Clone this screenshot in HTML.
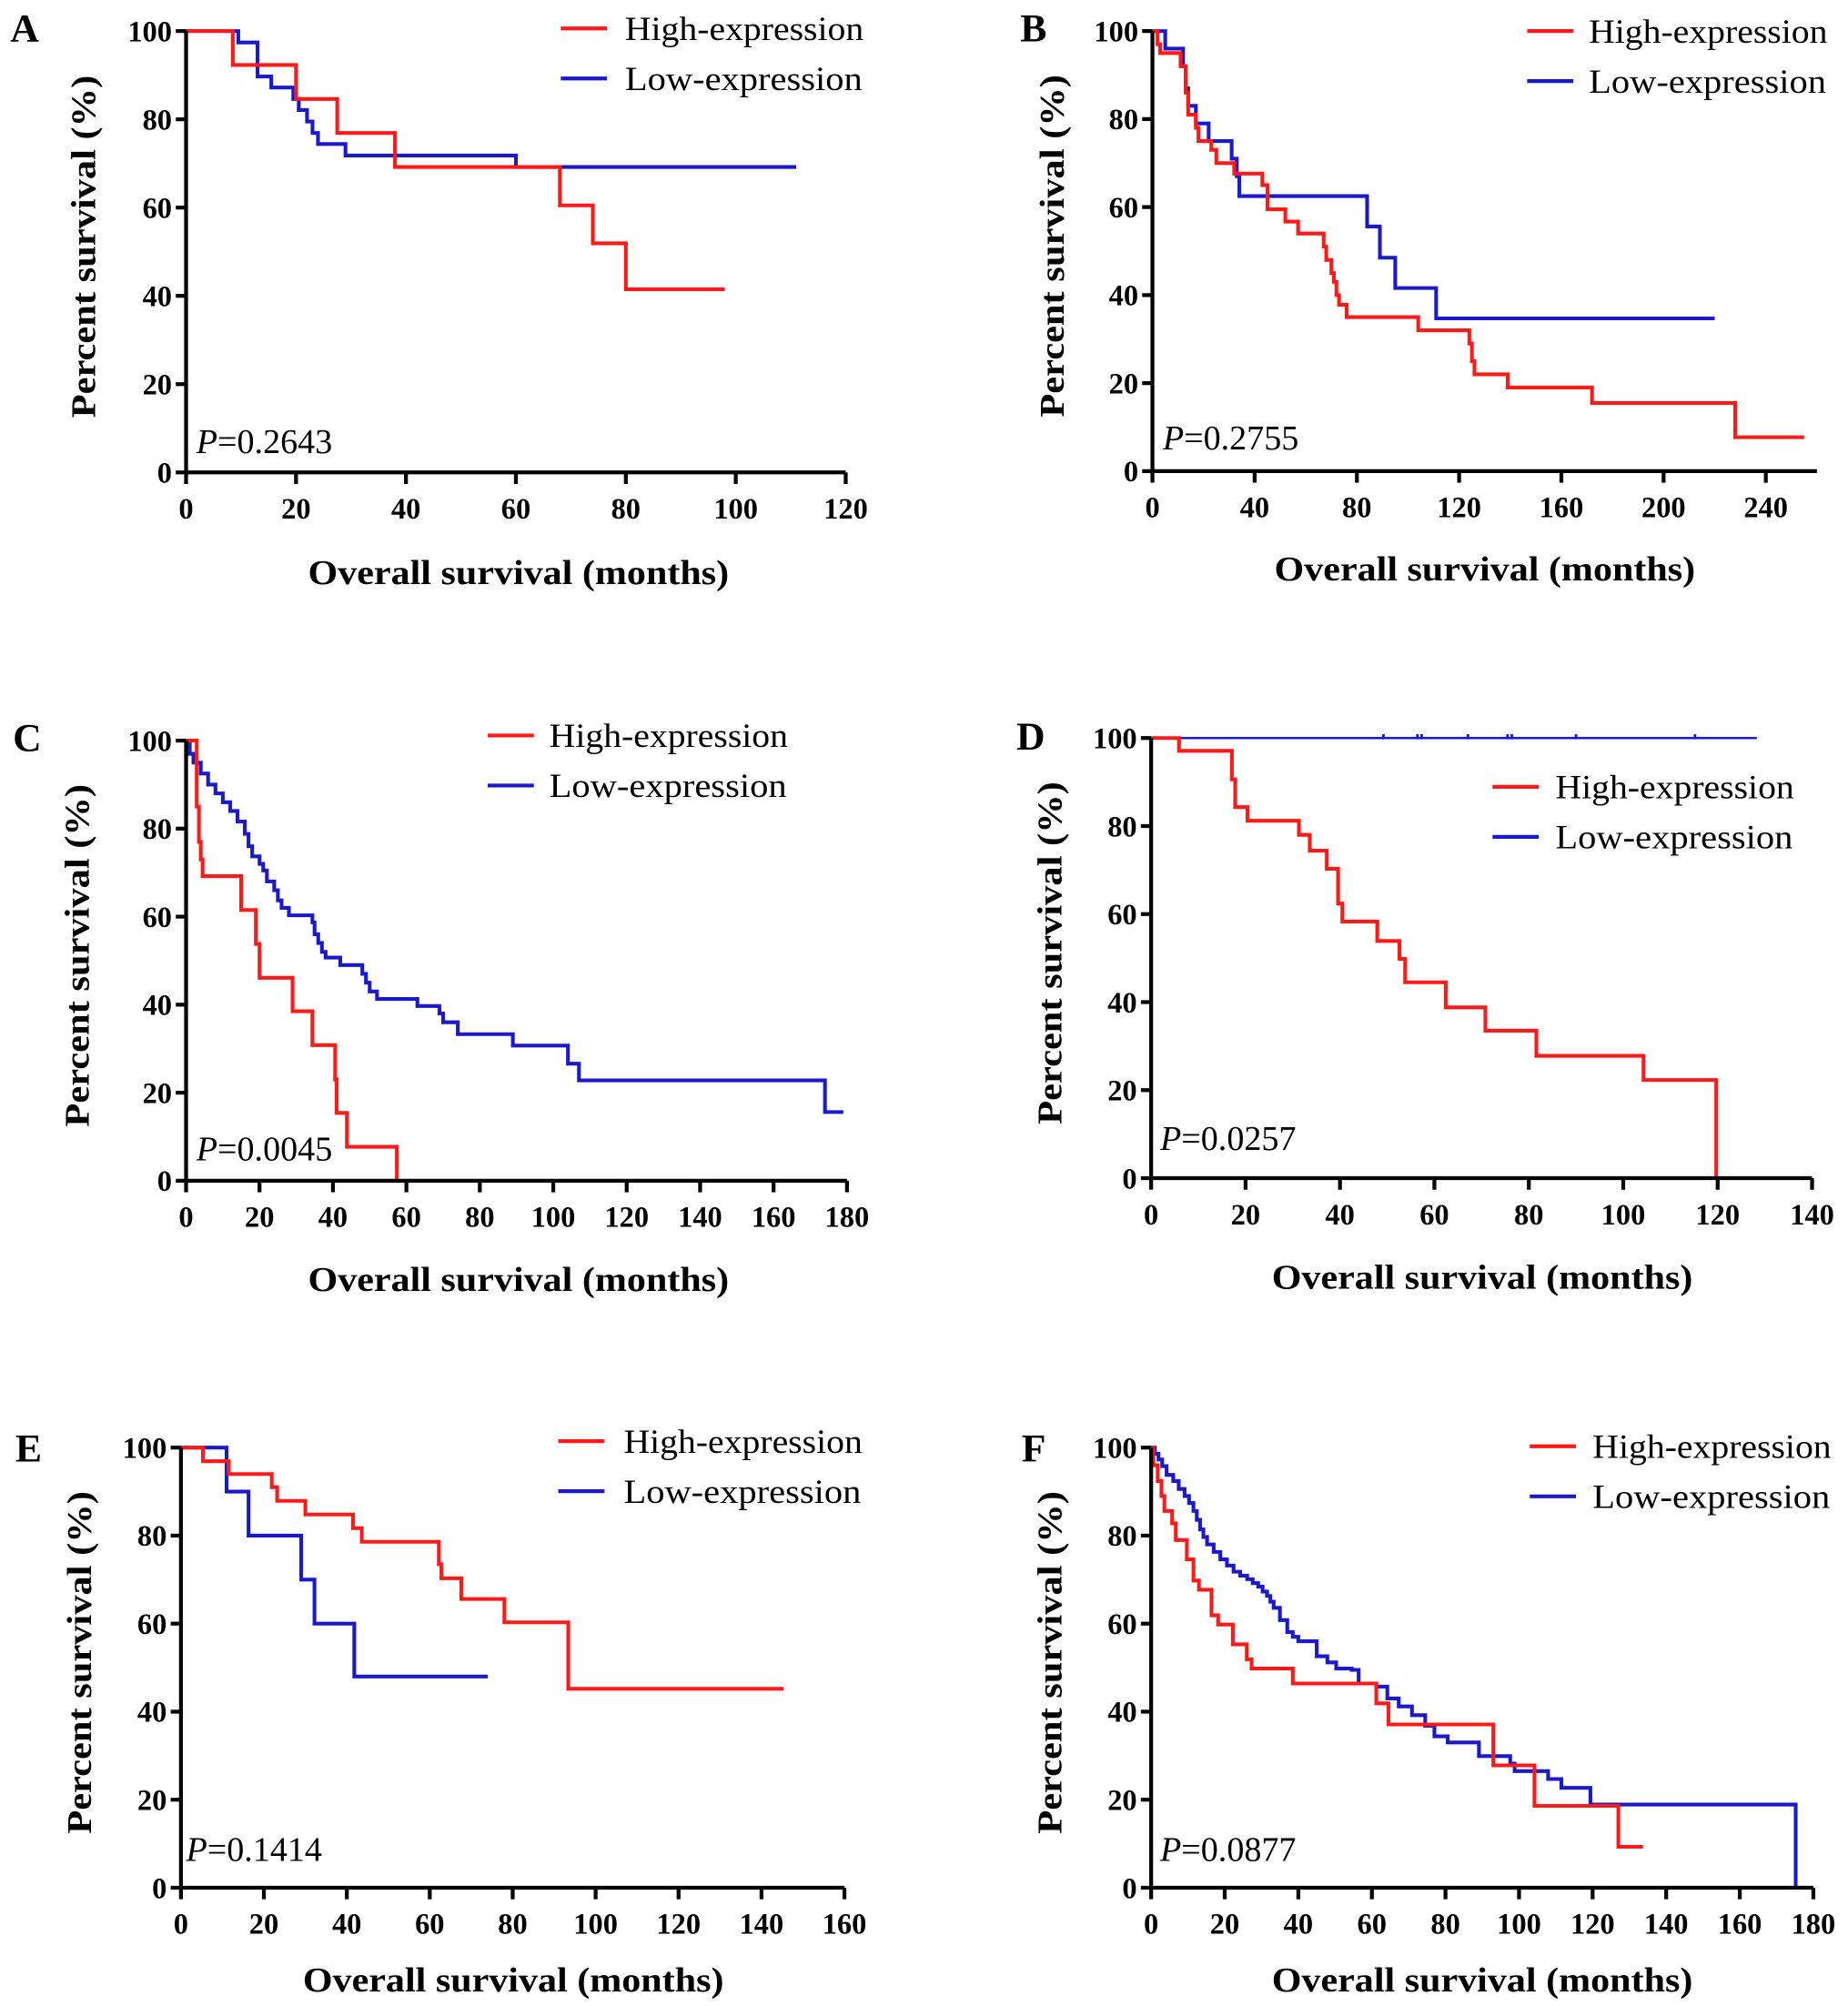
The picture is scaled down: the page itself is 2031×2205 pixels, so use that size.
<!DOCTYPE html>
<html><head><meta charset="utf-8"><style>
html,body{margin:0;padding:0;background:#fff}
svg{display:block}
text{font-family:"Liberation Serif",serif;fill:#000}
</style></head><body>
<svg id="fig" xmlns="http://www.w3.org/2000/svg" width="2031" height="2205" viewBox="0 0 1440 1563"></svg>
<script>
// ---- Data (time in months, survival in %) ----
const aHighT=[8.5,20,27.5,38,68,74,80];const aHighV=[92.3,84.6,76.9,69.2,60.5,51.9,41.5];const aHighEnd=98;
const aLowT=[9.5,13,15.5,19.5,20.5,22,23,24,29,60];const aLowV=[97.4,89.7,87.2,84.6,82.1,79.5,76.9,74.4,71.8,69.2];const aLowEnd=111;
const bHighT=[2,3,11,13,14,17,18,23,25,32,43,45,52,57,67,68,70,71,72,73,76,104,124,125,126,139,172,228];
const bHighV=[97,95,92,86,81,78,75,73,70,67.6,65,59.5,56.7,54,51,48,45,43,40,37.8,35,32,29,25,22,19,15.5,7.7];const bHighEnd=255;
const bLowT=[5,12,13,14,17,22,31,33,34,84,89,95,111];const bLowV=[96,92,87,83,79,75,71,67,62.5,55.6,48.5,41.6,34.7];const bLowEnd=220;
const cHighT=[2.9,3.5,4,4.5,15,19,20,29,34.4,40.6,41,43.8,57.4];const cHighV=[85,77,73,69.2,61.5,53.8,46.1,38.5,30.8,23,15.4,7.7,0];const cHighEnd=57.4;
const cLowT=[1,2,4,6,8,10,12,14,16,17,18,20,21,22,24,25,26,28,34.4,35,36,37,38,42,48,49,50,52,63,69,70,74,89,104,107,174];
const cLowV=[97,95,92.5,90,88,86,84,81.6,78.8,76,73.7,72,70.5,68,66,63.7,62,60.3,58.7,56,54,52,50.7,49,47,45,43,41.3,39.7,38,36,33.3,30.7,26.6,22.8,15.6];const cLowEnd=179;
const dHighT=[5.9,17.1,17.8,20.4,31.3,33.6,37.2,39.6,40.5,47.9,52.6,53.8,62.4,70.8,81.6,104.3,119.7];
const dHighV=[97.1,90.6,84.3,81.2,78,74.4,70.3,62.4,58.3,53.9,49.8,44.5,38.8,33.5,27.8,22.3,0];const dHighEnd=119.7;
const dLowT=[];const dLowV=[];const dLowEnd=128.3;const dLowCensor=[49.2,56.4,57.3,67.1,75.5,76.4,90,115.2];
const eHighT=[5.3,11.5,21.9,23.2,30,41.5,43.6,62.2,62.8,67.6,78,93.4];const eHighV=[96.9,94,91,87.9,84.8,81.7,78.6,73.5,70.3,65.6,60.3,45.2];const eHighEnd=145.3;
const eLowT=[11,16.3,29,32.2,41.8];const eLowV=[90,80,70,60,48];const eLowEnd=74;
const fHighT=[0.6,1.8,2.8,3.6,5.7,6.7,9.7,11.5,13,16.4,18.2,22.2,26,27.3,38.5,61.2,64.5,93,104.2,127];
const fHighV=[96,92.4,89,85.6,82.8,79,74.6,69.8,67.7,61.9,59.8,55.3,51.9,49.8,46.4,41.9,37.1,27.8,18.6,9.3];const fHighEnd=133.7;
const fLowT=[1,2,3,4.2,6,7.5,9.1,10.3,11.5,12.4,13.3,14.2,15.2,17,18.8,20.6,22.4,24.2,26.1,27.6,29.1,30.3,31.5,32.4,33.3,35,37,38.5,40,45,47.9,50.3,54.5,56.4,61.2,64.2,67.3,70.9,74.5,77,80.6,89.1,97.6,98.8,107.9,111.5,119.4,175.2];
const fLowV=[98.6,97.3,95.8,93.8,92.4,90.6,89,87.4,85.6,83.6,81.4,79.7,78,76.3,74.6,73.2,71.8,70.9,70.1,69.2,68.4,67.3,66.3,65,63.6,60.8,58.1,57,56,52.6,51.2,49.8,49.5,46.4,45.7,43,41.2,39.2,36.8,34.4,33,29.9,28.2,26.5,24.7,22.7,18.9,0];const fLowEnd=175.2;
const yTicks=[0,20,40,60,80,100];
const pValues=["0.2643","0.2755","0.0045","0.0257","0.1414","0.0877"];
const panelLetters=["A","B","C","D","E","F"];

const panels=[
 {x0:145,x1:659,xmax:120,step:20,lmax:120,y0:368,y100:24,lg:[437,22,487],p:[153,353],yl:65,xl:[404,446],lt:[8,32],hT:aHighT,hV:aHighV,hE:aHighEnd,lT:aLowT,lV:aLowV,lE:aLowEnd},
 {x0:898,x1:1415.8,xmax:260,step:40,lmax:240,y0:367,y100:24,lg:[1190,24,1238],p:[906,350],yl:820,xl:[1157,443],lt:[795,32],hT:bHighT,hV:bHighV,hE:bHighEnd,lT:bLowT,lV:bLowV,lE:bLowEnd},
 {x0:145,x1:660,xmax:180,step:20,lmax:180,y0:920,y100:577,lg:[380,573,428],p:[153,904],yl:60,xl:[404,997],lt:[10,585],hT:cHighT,hV:cHighV,hE:cHighEnd,lT:cLowT,lV:cLowV,lE:cLowEnd},
 {x0:897,x1:1412,xmax:140,step:20,lmax:140,y0:918,y100:575,lg:[1163,613,1212],p:[904,896],yl:818,xl:[1155,995],lt:[792,584],hT:dHighT,hV:dHighV,hE:dHighEnd,lT:dLowT,lV:dLowV,lE:dLowEnd,thinLow:true},
 {x0:141,x1:658,xmax:160,step:20,lmax:160,y0:1471,y100:1128,lg:[435,1123,486],p:[145,1450],yl:62,xl:[400,1543],lt:[12,1139],hT:eHighT,hV:eHighV,hE:eHighEnd,lT:eLowT,lV:eLowV,lE:eLowEnd},
 {x0:897,x1:1413,xmax:180,step:20,lmax:180,y0:1471,y100:1128,lg:[1192,1127,1241],p:[904,1450],yl:818,xl:[1155,1543],lt:[796,1139],hT:fHighT,hV:fHighV,hE:fHighEnd,lT:fLowT,lV:fLowV,lE:fLowEnd}
];
const NS="http://www.w3.org/2000/svg";
const svg=document.getElementById('fig');
function mk(tag,attrs,parent){const e=document.createElementNS(NS,tag);for(const k in attrs)e.setAttribute(k,attrs[k]);parent.appendChild(e);return e;}
panels.forEach((P,i)=>{
 const g=mk('g',{},svg);
 
 
 const xs=t=>P.x0+(P.x1-P.x0)*t/P.xmax;
 const ys=v=>P.y0+(P.y100-P.y0)*v/100;
 function step(T,V,E,col,w,name){
  let d='M'+xs(0)+' '+ys(100);
  for(let k=0;k<T.length;k++){d+=' H'+xs(T[k])+' V'+ys(V[k]);}
  d+=' H'+xs(E);
  const p=mk('path',{d:d,fill:'none',stroke:col,'stroke-width':w,'stroke-linejoin':'miter'},g);
  
  
 }
 step(P.lT,P.lV,P.lE,'#1a1acc',P.thinLow?1.8:2.9,'low-expression-curve');
 step(P.hT,P.hV,P.hE,'#ff1a1a',2.9,'high-expression-curve');
 if(i===3){dLowCensor.forEach(t=>{const c=mk('line',{x1:xs(t),x2:xs(t),y1:ys(100)-3,y2:ys(100)+1,stroke:'#1a1acc','stroke-width':2},g);
  
  });}
 const ax=mk('path',{d:'M'+P.x0+' '+P.y100+' V'+P.y0+' H'+P.x1,fill:'none',stroke:'#000','stroke-width':3},g);
 
 
 yTicks.forEach(v=>{
  mk('line',{x1:P.x0-8,x2:P.x0,y1:ys(v),y2:ys(v),stroke:'#000','stroke-width':3},g);
  const t=mk('text',{x:P.x0-11,y:ys(v)+8,'text-anchor':'end','font-size':23,'font-weight':'bold'},g);
  t.textContent=v;
  
  
 });
 for(let v=0;v<=P.xmax+0.01;v+=P.step){
  mk('line',{x1:xs(v),x2:xs(v),y1:P.y0,y2:P.y0+9,stroke:'#000','stroke-width':3},g);
  if(v<=P.lmax){const t=mk('text',{x:xs(v),y:P.y0+36,'text-anchor':'middle','font-size':23,'font-weight':'bold'},g);
  t.textContent=v;
  
  }
 }
 const xt=mk('text',{x:P.xl[0],y:P.xl[1]+9,'text-anchor':'middle','font-size':27,'font-weight':'bold',textLength:328,lengthAdjust:'spacingAndGlyphs'},g);
 xt.textContent='Overall survival (months)';
 
 
 const cy=(P.y0+P.y100)/2-4;
 const yt=mk('text',{x:0,y:0,'text-anchor':'middle','font-size':27,'font-weight':'bold',textLength:267,lengthAdjust:'spacingAndGlyphs',transform:'translate('+(P.yl+9)+' '+cy+') rotate(-90)'},g);
 yt.textContent='Percent survival (%)';
 
 
 const lt=mk('text',{x:P.lt[0],y:P.lt[1],'font-size':31,'font-weight':'bold'},g);
 lt.textContent=panelLetters[i];
 
 
 const pt=mk('text',{x:P.p[0],y:P.p[1],'font-size':27},g);
 pt.innerHTML='<tspan font-style="italic">P</tspan>='+pValues[i];
 
 
 [['High-expression','#ff1a1a',0],['Low-expression','#1a1acc',39]].forEach(([lab,col,dy])=>{
  const lg=mk('g',{},g);
  
  
  mk('line',{x1:P.lg[0],x2:P.lg[0]+36,y1:P.lg[1]+dy,y2:P.lg[1]+dy,stroke:col,'stroke-width':3},lg);
  const tx=mk('text',{x:P.lg[2],y:P.lg[1]+dy+9,'font-size':26,textLength:lab[0]==='H'?186:185,lengthAdjust:'spacingAndGlyphs'},lg);
  tx.textContent=lab;
 });
});
</script>
</body></html>
